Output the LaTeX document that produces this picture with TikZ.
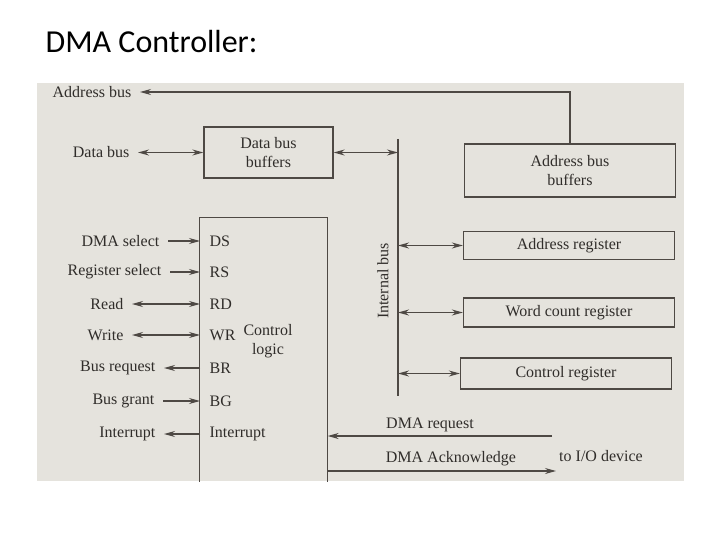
\documentclass[tikz,border=0pt]{standalone}
\usepackage{fontspec}
\setmainfont{Liberation Serif}
\newfontfamily\titlefont{Carlito}
\usetikzlibrary{arrows.meta}
\definecolor{scan}{RGB}{229,227,221}
\definecolor{ink}{RGB}{78,73,68}
\definecolor{inktext}{RGB}{48,45,42}
\tikzset{
  lbl/.style={anchor=east, inner xsep=8pt, inner ysep=1pt, text=inktext},
  pinlbl/.style={anchor=west, inner xsep=9pt, inner ysep=1pt, text=inktext},
  regbox/.style={draw=ink, minimum width=211pt, minimum height=28pt, text=inktext},
}
\begin{document}
\begin{tikzpicture}[x=1pt, y=-1pt, line width=1.3pt, draw=ink,
    font=\fontsize{16}{18.5}\selectfont,
    >={Stealth[length=11pt,width=6pt]}]
    \useasboundingbox (0,0) rectangle (720,540);

    % The scanned page and the title
    \fill[scan] (37,83) rectangle (684,481);
    \node[anchor=base west, inner sep=0, font=\titlefont\fontsize{32}{36}\selectfont] (title) at (45,53) {DMA Controller:};

    % The buffers and the registers
    \node[regbox, minimum width=129pt, minimum height=51pt, align=center] (dbuf) at (268.5,152.5) {Data bus\\buffers};
    \node[regbox, minimum height=53pt, align=center] (abuf) at (570,170.5) {Address bus\\buffers};
    \node[regbox] (areg) at (569,245.5) {Address register};
    \node[regbox, minimum height=29pt] (wreg) at (569,312.5) {Word count register};
    \node[regbox, minimum height=31pt] (creg) at (566,373.5) {Control register};

    % The control logic, open at the foot
    \node[minimum width=127pt, minimum height=263pt] (ctrl) at (263.5,349.5) {};
    \draw (ctrl.south west) -- (ctrl.north west) -- (ctrl.north east) -- (ctrl.south east);
    \node[text=inktext, align=center] (ctrltxt) at (268,341) {Control\\logic};

    % The internal bus
    \coordinate (ibtop) at (398,139);
    \coordinate (ibbot) at (398,396);
    \draw (ibtop) -- (ibbot);
    \node[rotate=90, text=inktext] (ibtxt) at (383,281) {Internal bus};

    % The system buses
    \node[lbl] (addrbus) at (140,92) {Address bus};
    \node[lbl] (databus) at (138,152.5) {Data bus};
    \draw[->] (abuf.north) |- (addrbus.east);
    \draw[<->] (databus.east) -- (dbuf.west);
    \draw[<->] (dbuf.east) -- (dbuf.east -| ibtop);
    \draw[<->] (areg.west -| ibtop) -- (areg.west);
    \draw[<->] (wreg.west -| ibtop) -- (wreg.west);
    \draw[<->] (creg.west -| ibtop) -- (creg.west);

    % The control lines on the left
    \node[lbl] (dmasel) at (168,241) {DMA select};
    \node[lbl] (regsel) at (170,272) {Register select};
    \node[lbl] (read) at (132,304) {Read};
    \node[lbl] (write) at (132,335) {Write};
    \node[lbl] (busreq) at (164,368) {Bus request};
    \node[lbl] (busgr) at (163,401) {Bus grant};
    \node[lbl] (intout) at (164,434) {Interrupt};

    \node[pinlbl] (ds) at (200,241) {DS};
    \node[pinlbl] (rs) at (200,272) {RS};
    \node[pinlbl] (rd) at (200,304) {RD};
    \node[pinlbl] (wr) at (200,335) {WR};
    \node[pinlbl] (br) at (200,368) {BR};
    \node[pinlbl] (bg) at (200,401) {BG};
    \node[pinlbl] (intp) at (200,434) {Interrupt};

    \draw[->] (dmasel.east) -- (ds.west);
    \draw[->] (regsel.east) -- (rs.west);
    \draw[<->] (read.east) -- (rd.west);
    \draw[<->] (write.east) -- (wr.west);
    \draw[->] (br.west) -- (busreq.east);
    \draw[->] (busgr.east) -- (bg.west);
    \draw[->] (intp.west) -- (intout.east);

    % The lines to the I/O device
    \coordinate (ioreq) at (552,436);
    \coordinate (ioack) at (556,471);
    \draw[->] (ioreq) -- (ioreq -| ctrl.east);
    \draw[->] (ctrl.east |- ioack) -- (ioack);
    \node[text=inktext] (reqtxt) at (430,425) {DMA request};
    \node[text=inktext] (acktxt) at (451,459) {DMA Acknowledge};
    \node[text=inktext] (iodev) at (601,456) {to I/O device};
\end{tikzpicture}
\end{document}
